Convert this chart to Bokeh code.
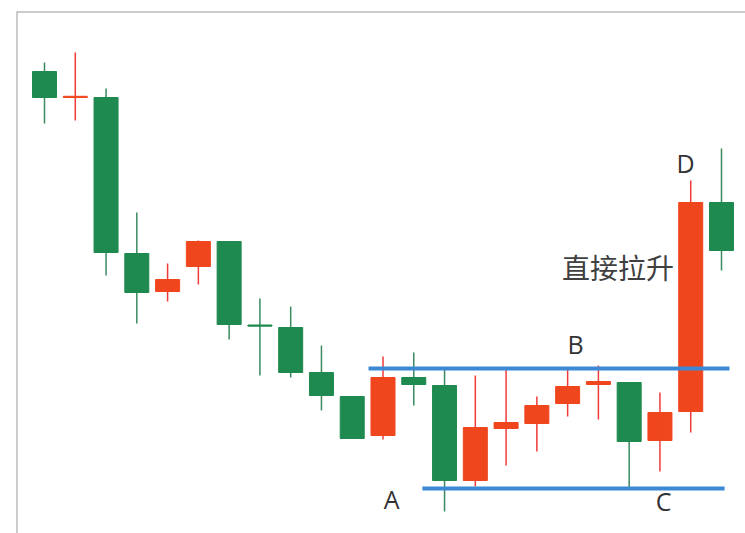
from bokeh.plotting import figure
from bokeh.models import ColumnDataSource, Range1d, Span
from bokeh.core.properties import value
from bokeh.embed import file_html
from bokeh.resources import INLINE

# ---- data (price units) ----
idx = list(range(23))
opens  = [52.9, 50.3, 50.3, 34.7, 30.9, 33.4, 35.9, 27.55, 27.3, 22.8, 20.4, 16.5,
          22.3, 21.5, 12.0, 17.2, 17.7, 19.7, 21.6, 21.8, 16.0, 18.9, 39.8]
closes = [50.3, 50.42, 34.8, 30.8, 32.1, 35.9, 27.6, 27.43, 22.8, 20.5, 16.2, 22.3,
          21.6, 12.0, 17.3, 17.8, 19.5, 21.4, 21.9, 15.9, 18.8, 39.8, 35.0]
highs  = [53.8, 54.8, 51.2, 38.8, 33.7, 36.0, 35.9, 30.2, 29.4, 25.5, 20.4, 24.4,
          24.8, 23.3, 22.5, 23.2, 20.4, 23.3, 23.5, 21.8, 20.8, 42.0, 45.2]
lows   = [47.7, 48.0, 32.5, 27.7, 29.9, 31.6, 26.1, 22.5, 22.3, 19.0, 16.2, 16.1,
          19.5, 8.9, 11.4, 13.5, 14.9, 18.4, 18.1, 11.3, 12.9, 16.8, 33.0]

# support / resistance levels
level_names = ["B", "C"]
level_values = [23.2, 11.2]
level_x0 = [10.53, 12.28]
level_x1 = [22.26, 22.1]

# annotations
label_texts = ["A", "B", "C", "D"]
label_x = [11.28, 17.26, 20.12, 20.83]
label_y = [10.2, 25.7, 10.0, 43.8]
note_text = ["直接拉升"]
note_x = [18.64]
note_y = [33.4]

UP = "#f0461e"      # red = rise
UP_WICK = "#f03a3a"
DOWN = "#1f8a4f"    # green = fall
DOWN_WICK = "#3a8a60"

up_i = [i for i in idx if closes[i] >= opens[i]]
dn_i = [i for i in idx if closes[i] < opens[i]]

def src(ids):
    return ColumnDataSource(dict(
        x=ids,
        top=[max(opens[i], closes[i]) for i in ids],
        bottom=[min(opens[i], closes[i]) for i in ids],
        high=[highs[i] for i in ids],
        low=[lows[i] for i in ids],
    ))

p = figure(width=745, height=533, output_backend="svg", toolbar_location=None,
           x_range=Range1d(-0.91, 22.78), y_range=Range1d(6.7, 58.9),
           min_border_left=16, min_border_top=11, min_border_right=0, min_border_bottom=0)
p.axis.visible = False
p.grid.visible = False
p.outline_line_color = None
p.background_fill_color = "white"
p.border_fill_color = "white"

# frame edges (top and left)
p.add_layout(Span(location=58.9, dimension="width", line_color="#9a9a9a", line_width=2))
p.add_layout(Span(location=-0.91, dimension="height", line_color="#9a9a9a", line_width=2))

for ids, body, wick in [(up_i, UP, UP_WICK), (dn_i, DOWN, DOWN_WICK)]:
    s = src(ids)
    p.segment(x0="x", y0="high", x1="x", y1="low", source=s, line_color=wick, line_width=1.5)
    p.vbar(x="x", width=0.78, top="top", bottom="bottom", source=s,
           fill_color=body, line_color=body, line_width=1)

# horizontal levels
p.segment(x0=level_x0, y0=level_values, x1=level_x1, y1=level_values,
          line_color="#3b88d4", line_width=4)

p.text(x=label_x, y=label_y, text=label_texts, text_align="center", text_baseline="middle",
       text_font=value("Open Sans"), text_font_size="25px", text_color="#333333")
p.text(x=note_x, y=note_y, text=note_text, text_align="center", text_baseline="middle",
       text_font=value("Noto Sans CJK SC"), text_font_size="28px", text_color="#404040")

open("out.html", "w").write(file_html(p, INLINE))
